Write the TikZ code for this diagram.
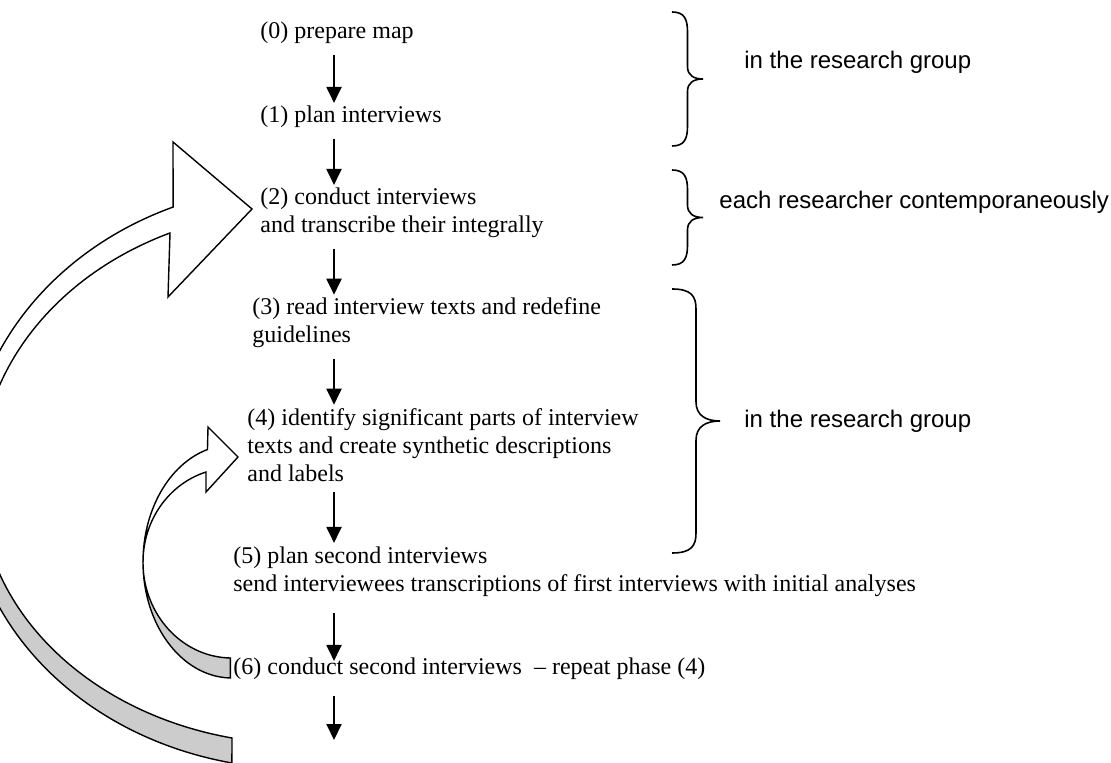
\documentclass[tikz,border=0pt]{standalone}
\usepackage{fontspec}
\setmainfont{Liberation Serif}
\newfontfamily\arialfont{Liberation Sans}
\usetikzlibrary{arrows.meta}

% right brace: left x, top, bottom, width
\newcommand{\wbrace}[4]{%
	\draw[brc] (#1,#2) .. controls ({#1+0.4*#4},#2) and ({#1+0.5*#4},{#2+7}) .. ({#1+0.5*#4},{#2+20})
		-- ({#1+0.5*#4},{(#2+#3)/2-0.4*#4}) .. controls ({#1+0.5*#4},{(#2+#3)/2-0.12*#4}) and ({#1+0.7*#4},{(#2+#3)/2}) .. ({#1+#4},{(#2+#3)/2})
		.. controls ({#1+0.7*#4},{(#2+#3)/2}) and ({#1+0.5*#4},{(#2+#3)/2+0.12*#4}) .. ({#1+0.5*#4},{(#2+#3)/2+0.4*#4})
		-- ({#1+0.5*#4},{#3-20}) .. controls ({#1+0.5*#4},{#3-7}) and ({#1+0.4*#4},#3) .. (#1,#3);}

\begin{document}
\begin{tikzpicture}[x=0.5pt,y=-0.5pt,
	stage/.style={anchor=base west, inner sep=0pt, align=left, font=\fontsize{12pt}{14pt}\selectfont},
	lab/.style={anchor=base west, inner sep=0pt, font=\arialfont\fontsize{12pt}{14pt}\selectfont},
	flow/.style={-{Triangle[width=7.5pt,length=8pt]}, line width=1pt, shorten <=5pt, shorten >=1.5pt},
	brc/.style={line width=0.8pt},
	loop/.style={line width=0.7pt, line join=miter}]
	\useasboundingbox (0,0) rectangle (1111,763);
	\clip (0,0) rectangle (1111,763);
	% big loop back to (2)
	\filldraw[loop, fill=gray!40] (300,485) ++(180:333 and 284) arc[start angle=180, end angle=101.8, x radius=333, y radius=284]
		-- (232,738) arc[start angle=102.3, end angle=180, x radius=320, y radius=259] -- cycle;
	\filldraw[loop, fill=white] (300,477) ++(180:333 and 292) arc[start angle=180, end angle=247.6, x radius=333, y radius=292]
		-- (173,142) -- (252,209) -- (168,297)
		-- (170,233) arc[start angle=246, end angle=180, x radius=320, y radius=267] -- cycle;
	% small loop back to (4)
	\filldraw[loop, fill=gray!40] (232,562) ++(180:89 and 116) arc[start angle=180, end angle=91, x radius=89, y radius=116]
		-- (230.4,658) arc[start angle=91, end angle=180, x radius=89, y radius=96] -- cycle;
	\filldraw[loop, fill=white] (232,562) ++(180:89 and 117) arc[start angle=180, end angle=254, x radius=89, y radius=117]
		-- (208,427) -- (238,457) -- (206,492)
		-- (206,472) arc[start angle=253, end angle=180, x radius=89, y radius=94] -- cycle;

	% base of a node with several lines is its last line
	\node[stage] (s0) at (260,39) {(0) prepare map};
	\node[stage] (s1) at (260,123) {(1) plan interviews};
	\node[stage] (s2) at (260,233) {(2) conduct interviews\\and transcribe their integrally};
	\node[stage] (s3) at (252,343) {(3) read interview texts and redefine\\guidelines};
	\node[stage] (s4) at (247,481) {(4) identify significant parts of interview\\texts and create synthetic descriptions\\and labels};
	\node[stage] (s5) at (233,591) {(5) plan second interviews\\send interviewees transcriptions of first interviews with initial analyses};
	\node[stage] (s6) at (233,674) {(6) conduct second interviews\ \ -- repeat phase (4)};

	\coordinate (col) at (334,0);
	\coordinate (out) at (334,743);
	\draw[flow] (s0.south -| col) -- (s1.north -| col);
	\draw[flow] (s1.south -| col) -- (s2.north -| col);
	\draw[flow] (s2.south -| col) -- (s3.north -| col);
	\draw[flow] (s3.south -| col) -- (s4.north -| col);
	\draw[flow] (s4.south -| col) -- (s5.north -| col);
	\draw[flow, shorten <=8pt, shorten >=-2pt] (s5.south -| col) -- (s6.north -| col);
	\draw[flow, shorten <=8pt] (s6.south -| col) -- (out);

	\wbrace{672}{12}{146}{31}
	\wbrace{672}{170}{265}{31}
	\wbrace{672}{289}{553}{48}
	\node[lab] (g1) at (744,69) {in the research group};
	\node[lab] (g2) at (719,209) {each researcher contemporaneously};
	\node[lab] (g3) at (744,428) {in the research group};
\end{tikzpicture}
\end{document}
